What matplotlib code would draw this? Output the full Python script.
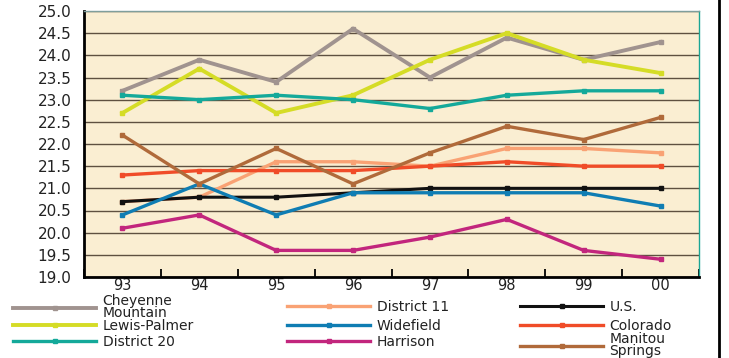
import numpy as np
import matplotlib
matplotlib.use("Agg")
import matplotlib.pyplot as plt
from matplotlib.lines import Line2D

# School years (x categories)
years = ["93", "94", "95", "96", "97", "98", "99", "00"]

# Average scores per district / region
cheyenne_mountain = [23.2, 23.9, 23.4, 24.6, 23.5, 24.4, 23.9, 24.3]
district_11 = [20.7, 20.8, 21.6, 21.6, 21.5, 21.9, 21.9, 21.8]
us = [20.7, 20.8, 20.8, 20.9, 21.0, 21.0, 21.0, 21.0]
lewis_palmer = [22.7, 23.7, 22.7, 23.1, 23.9, 24.5, 23.9, 23.6]
widefield = [20.4, 21.1, 20.4, 20.9, 20.9, 20.9, 20.9, 20.6]
colorado = [21.3, 21.4, 21.4, 21.4, 21.5, 21.6, 21.5, 21.5]
district_20 = [23.1, 23.0, 23.1, 23.0, 22.8, 23.1, 23.2, 23.2]
harrison = [20.1, 20.4, 19.6, 19.6, 19.9, 20.3, 19.6, 19.4]
manitou_springs = [22.2, 21.1, 21.9, 21.1, 21.8, 22.4, 22.1, 22.6]

# (label, values, colour, linewidth) in legend order (row by row)
series = [
    ("Cheyenne\nMountain", cheyenne_mountain, "#a0938f", 2.8),
    ("District 11", district_11, "#f9a274", 2.4),
    ("U.S.", us, "#111111", 2.2),
    ("Lewis-Palmer", lewis_palmer, "#d5dc26", 2.8),
    ("Widefield", widefield, "#0f7db3", 2.4),
    ("Colorado", colorado, "#f04c28", 2.4),
    ("District 20", district_20, "#14a99a", 2.4),
    ("Harrison", harrison, "#c2267d", 2.4),
    ("Manitou\nSprings", manitou_springs, "#b06a3a", 2.4),
]

plt.rcParams["font.family"] = ["DejaVu Sans"]
W, H = 729, 358
fig = plt.figure(figsize=(W / 100, H / 100), dpi=100)
fig.patch.set_facecolor("white")

ax = fig.add_axes([84 / W, 1 - 277 / H, (699 - 84) / W, (277 - 11) / H])
ax.set_facecolor("#faeed2")

x = np.arange(len(years))
lines = {}
for label, vals, color, lw in series:
    (ln,) = ax.plot(x, vals, color=color, lw=lw, marker="s", ms=3,
                    solid_joinstyle="miter", zorder=3)
    lines[label] = ln

ax.set_xlim(-0.5, len(years) - 0.5)
ax.set_ylim(19, 25)
yt = np.arange(19, 25.01, 0.5)
ax.set_yticks(yt)
ax.set_yticklabels([f"{v:.1f}" for v in yt])
ax.set_xticks(x)
ax.set_xticklabels(years)
ax.set_xticks(np.arange(-0.5, len(years), 1.0), minor=True)

ax.yaxis.grid(True, color="#5e5040", lw=1.0)
ax.set_axisbelow(True)

ax.tick_params(axis="y", length=0, pad=9, labelsize=11, labelcolor="#222222")
ax.tick_params(axis="x", which="major", length=0, pad=0.5, labelsize=10.5,
               labelcolor="#222222")
ax.tick_params(axis="x", which="minor", direction="in", length=6, width=1.3,
               color="black")

ax.spines["left"].set_color("black")
ax.spines["left"].set_linewidth(2)
ax.spines["bottom"].set_color("black")
ax.spines["bottom"].set_linewidth(2)
ax.spines["top"].set_color("#7f9e9c")
ax.spines["top"].set_linewidth(1)
ax.spines["right"].set_color("#1aa595")
ax.spines["right"].set_linewidth(1)

# Legend: three columns, three rows, each entry anchored on a common grid
col_x = [13, 287, 520]
row_y = [307, 326, 342]
for i, (label, vals, color, lw) in enumerate(series):
    r, c = divmod(i, 3)
    yy = row_y[r] + (3 if "\n" in label and r == 2 else 0)
    leg = fig.legend([lines[label]], [label], loc="center left",
                     bbox_to_anchor=(col_x[c] / W, 1 - yy / H),
                     bbox_transform=fig.transFigure, frameon=False,
                     borderpad=0, borderaxespad=0, handlelength=6.0,
                     handletextpad=0.45, numpoints=1, fontsize=10)
    for t in leg.get_texts():
        t.set_color("#222222")
        t.set_linespacing(0.8)

# Page border on the right
fig.add_artist(Line2D([719 / W, 719 / W], [0, 1], color="black", lw=2,
                      transform=fig.transFigure))

fig.savefig("out.png", dpi=100)
